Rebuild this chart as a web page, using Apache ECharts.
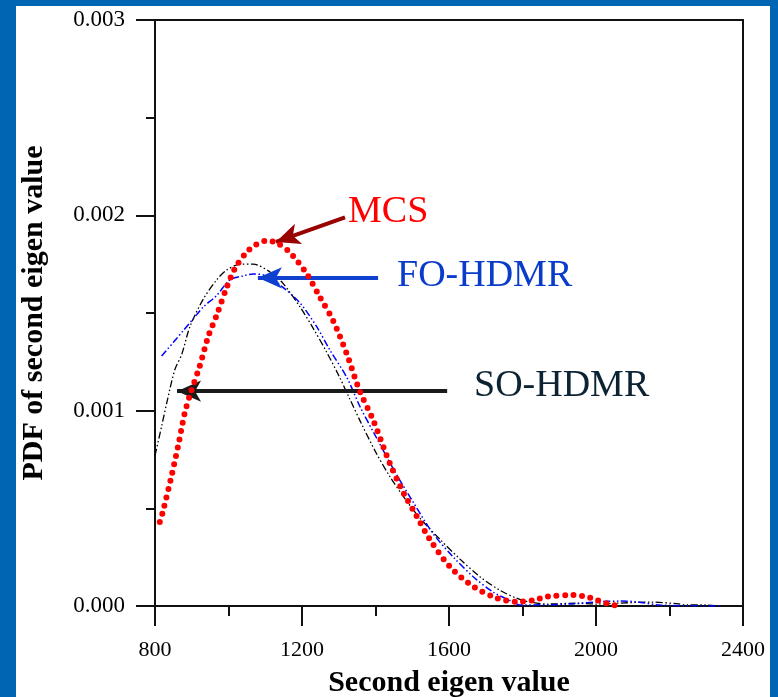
<!DOCTYPE html>
<html>
<head>
<meta charset="utf-8">
<script src="https://cdn.jsdelivr.net/npm/echarts@6/dist/echarts.min.js"></script>
<style>
html,body{margin:0;padding:0;background:#fff;}
#chart{width:778px;height:697px;}
</style>
</head>
<body>
<div id="chart"></div>
<script>
// ---- data ----
var xTicks = [800, 1200, 1600, 2000, 2400];
var yTicks = [0.000, 0.001, 0.002, 0.003];

var mcsX = [813, 821, 843, 863, 880, 895, 922, 945, 968, 995, 1018, 1049, 1075, 1104, 1130, 1167, 1213, 1249, 1285, 1322, 1355, 1394, 1439, 1476, 1512, 1548, 1603, 1666, 1730, 1784, 1830, 1866, 1938, 1980, 2002, 2035, 2060];
var mcsY = [0.00043, 0.00048, 0.00065, 0.00082, 0.00098, 0.00108, 0.00123, 0.00138, 0.00149, 0.00163, 0.00173, 0.00181, 0.00185, 0.00187, 0.00186, 0.00181, 0.00170, 0.00158, 0.00146, 0.00129, 0.00111, 0.00095, 0.00073, 0.00058, 0.00046, 0.00034, 0.00020, 0.00010, 0.00004, 0.000022, 0.00003, 0.000048, 0.000056, 0.000045, 0.00003, 0.00001, 0.0];

var foX = [818, 850, 877, 904, 931, 968, 1004, 1040, 1067, 1104, 1149, 1195, 1240, 1276, 1322, 1358, 1403, 1449, 1503, 1557, 1612, 1666, 1721, 1775, 1793, 1929, 2011, 2065, 2110, 2174, 2337];
var foY = [0.00128, 0.00135, 0.00141, 0.00147, 0.00153, 0.00159, 0.00167, 0.00169, 0.00170, 0.00169, 0.00163, 0.00155, 0.00143, 0.00131, 0.00117, 0.00102, 0.00086, 0.00070, 0.00053, 0.00037, 0.00025, 0.00015, 0.00007, 0.00002, 0.000005, 0.00001, 0.000022, 0.000025, 0.000022, 0.000005, 0.0];

var soX = [800, 818, 832, 854, 873, 895, 931, 968, 995, 1035, 1067, 1113, 1149, 1195, 1231, 1267, 1300, 1330, 1360, 1400, 1440, 1480, 1521, 1576, 1630, 1684, 1739, 1784, 1820, 1870, 1950, 2000, 2065, 2150, 2220, 2247, 2300, 2330];
var soY = [0.00077, 0.00092, 0.00104, 0.00121, 0.00129, 0.00143, 0.00157, 0.00167, 0.00172, 0.00175, 0.00175, 0.00171, 0.00165, 0.00153, 0.00142, 0.00130, 0.00118, 0.00106, 0.00094, 0.00079, 0.00066, 0.00055, 0.00045, 0.00034, 0.00024, 0.00015, 0.00008, 0.00004, 0.00002, 0.00001, 0.000015, 0.00001, 0.000015, 0.00002, 0.000012, 0.000005, 0.000005, 0.0];

// annotation arrows: [startX, startY, tipX, tipY]
var mcsArrow = [1317, 0.00199, 1129, 0.001864];
var foArrow = [1407, 0.00168, 1080, 0.00168];
var soArrow = [1595, 0.0011, 860, 0.0011];

function pairs(xs, ys) { return xs.map(function (x, i) { return [x, ys[i]]; }); }

var chart = echarts.init(document.getElementById('chart'), null, {renderer: 'canvas'});
var serif = '"Liberation Serif", "Times New Roman", serif';
var axisCol = '#111';

function arrowItem(a, color) {
  return [{coord: [a[0], a[1]], lineStyle: {color: color, width: 4, type: 'solid'}}, {coord: [a[2], a[3]]}];
}

var option = {
  backgroundColor: '#ffffff',
  animation: false,
  grid: {left: 155, right: 35, top: 20, bottom: 91, containLabel: false, outerBoundsMode: 'none'},
  xAxis: [{
    type: 'value', min: xTicks[0], max: xTicks[xTicks.length - 1], interval: 400,
    axisLine: {show: true, onZero: false, lineStyle: {color: axisCol, width: 2}},
    axisTick: {show: true, inside: false, length: 20, lineStyle: {color: axisCol, width: 2}},
    minorTick: {show: true, splitNumber: 2, length: 10, lineStyle: {color: axisCol, width: 2}},
    splitLine: {show: false},
    axisLabel: {show: true, margin: 33, color: '#000', fontFamily: serif, fontSize: 22,
      formatter: function (v) { return String(v); }},
    name: 'Second eigen value', nameLocation: 'middle', nameGap: 62,
    nameTextStyle: {fontFamily: serif, fontSize: 30, fontWeight: 'bold', color: '#000'}
  }, {
    type: 'value', position: 'top', min: 800, max: 2400, interval: 400,
    axisLine: {show: true, onZero: false, lineStyle: {color: axisCol, width: 2}},
    axisTick: {show: false}, axisLabel: {show: false}, splitLine: {show: false}
  }],
  yAxis: [{
    type: 'value', min: yTicks[0], max: yTicks[yTicks.length - 1], interval: 0.001,
    axisLine: {show: true, onZero: false, lineStyle: {color: axisCol, width: 2}},
    axisTick: {show: true, inside: false, length: 19, lineStyle: {color: axisCol, width: 2}},
    minorTick: {show: true, splitNumber: 2, length: 9, lineStyle: {color: axisCol, width: 2}},
    splitLine: {show: false},
    axisLabel: {show: true, margin: 30, color: '#000', fontFamily: serif, fontSize: 23,
      formatter: function (v) { return v.toFixed(3); }},
    name: 'PDF of second eigen value', nameLocation: 'middle', nameGap: 106,
    nameTextStyle: {fontFamily: serif, fontSize: 30, fontWeight: 'bold', color: '#000'}
  }, {
    type: 'value', position: 'right', min: 0, max: 0.003, interval: 0.001,
    axisLine: {show: true, onZero: false, lineStyle: {color: axisCol, width: 2}},
    axisTick: {show: false}, axisLabel: {show: false}, splitLine: {show: false}
  }],
  series: [
    {
      name: 'SO-HDMR', type: 'line', data: pairs(soX, soY), showSymbol: false, smooth: 0.3,
      lineStyle: {color: '#000', width: 1.3, type: [7, 2.5, 1.5, 2.5, 1.5, 2.5]}, z: 3
    },
    {
      name: 'FO-HDMR', type: 'line', data: pairs(foX, foY), showSymbol: false, smooth: 0.3,
      lineStyle: {color: '#0000ff', width: 1.5, type: [7, 2.5, 1.5, 2.5, 1.5, 2.5]}, z: 4
    },
    {
      name: 'MCS', type: 'line', data: pairs(mcsX, mcsY), showSymbol: false, smooth: 0.3,
      lineStyle: {color: '#ff0000', width: 6, type: [0, 8.5], cap: 'round'}, z: 5
    },
    {
      name: 'arrows', type: 'line', data: [], z: 6,
      markLine: {
        silent: true, symbol: ['none', 'arrow'], symbolSize: [16, 24], precision: 6,
        label: {show: false},
        data: [
          arrowItem(mcsArrow, '#990000'),
          arrowItem(foArrow, '#1040d0'),
          arrowItem(soArrow, '#1a1a1a')
        ]
      }
    }
  ],
  graphic: [
    {type: 'rect', left: 0, top: 0, shape: {width: 16, height: 697}, style: {fill: '#0066b3'}, z: 100},
    {type: 'rect', left: 0, top: 0, shape: {width: 778, height: 6}, style: {fill: '#0066b3'}, z: 100},
    {type: 'rect', left: 770, top: 0, shape: {width: 8, height: 697}, style: {fill: '#0066b3'}, z: 100},
    {type: 'text', x: 348, y: 212, z: 100, style: {text: 'MCS', fill: '#ff0000', font: '38px ' + serif, align: 'left', verticalAlign: 'middle'}},
    {type: 'text', x: 397, y: 276, z: 100, style: {text: 'FO-HDMR', fill: '#0a3ccc', font: '38px ' + serif, align: 'left', verticalAlign: 'middle'}},
    {type: 'text', x: 474, y: 386, z: 100, style: {text: 'SO-HDMR', fill: '#0c2334', font: '38px ' + serif, align: 'left', verticalAlign: 'middle'}}
  ]
};
chart.setOption(option);
</script>
</body>
</html>
